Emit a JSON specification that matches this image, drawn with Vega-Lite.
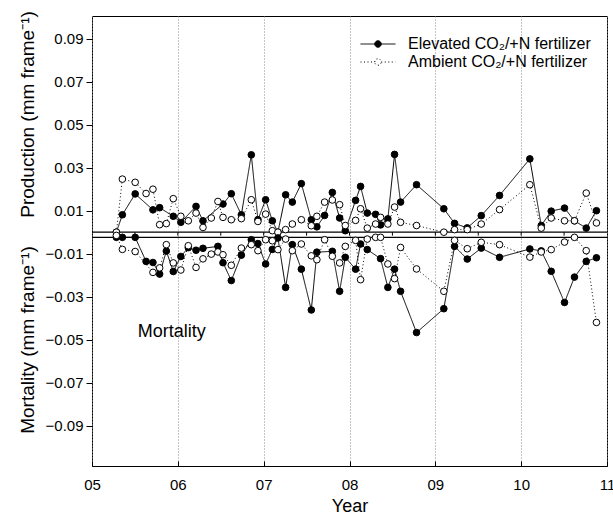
{
"$schema": "https://vega.github.io/schema/vega-lite/v6.json",
"width": 515, "height": 450,
"autosize": {"type": "none"},
"padding": {"left": 92, "top": 16, "right": 6, "bottom": 48},
"background": "white",
"config": {
  "font": "Liberation Sans",
  "view": {"stroke": "black", "strokeWidth": 1},
  "axis": {"labelFont": "Liberation Sans", "titleFont": "Liberation Sans", "labelColor": "black", "titleColor": "black", "titleFontWeight": "normal"},
  "legend": {"labelFont": "Liberation Sans", "labelColor": "black"},
  "text": {"font": "Liberation Sans"}
},
"datasets": {
  "ticks": [{"t":5.5},{"t":6},{"t":6.5},{"t":7},{"t":7.5},{"t":8},{"t":8.5},{"t":9},{"t":9.5},{"t":10},{"t":10.5}],
  "rules": [{"v":0},{"v":-0.0024}],
  "note": [{"t":5.532,"v":-0.0465,"label":"Mortality"}],
  "obs": [
{"t":5.284,"v":0,"s":"E","k":"P"},{"t":5.354,"v":0.0081,"s":"E","k":"P"},{"t":5.503,"v":0.0178,"s":"E","k":"P"},{"t":5.710,"v":0.0104,"s":"E","k":"P"},{"t":5.788,"v":0.0114,"s":"E","k":"P"},{"t":5.947,"v":0.0074,"s":"E","k":"P"},{"t":6.035,"v":0.0046,"s":"E","k":"P"},{"t":6.212,"v":0.012,"s":"E","k":"P"},{"t":6.293,"v":0.0053,"s":"E","k":"P"},{"t":6.526,"v":0.0131,"s":"E","k":"P"},{"t":6.623,"v":0.0179,"s":"E","k":"P"},{"t":6.740,"v":0.0081,"s":"E","k":"P"},{"t":6.856,"v":0.036,"s":"E","k":"P"},{"t":6.933,"v":0.0058,"s":"E","k":"P"},{"t":7.023,"v":0.0151,"s":"E","k":"P"},{"t":7.101,"v":0.0053,"s":"E","k":"P"},{"t":7.166,"v":0.0,"s":"E","k":"P"},{"t":7.256,"v":0.0174,"s":"E","k":"P"},{"t":7.334,"v":0.014,"s":"E","k":"P"},{"t":7.439,"v":0.0226,"s":"E","k":"P"},{"t":7.555,"v":0.0058,"s":"E","k":"P"},{"t":7.620,"v":0.0025,"s":"E","k":"P"},{"t":7.710,"v":0.0078,"s":"E","k":"P"},{"t":7.800,"v":0.0185,"s":"E","k":"P"},{"t":7.885,"v":0.0066,"s":"E","k":"P"},{"t":7.951,"v":0.0007,"s":"E","k":"P"},{"t":8.071,"v":0.0148,"s":"E","k":"P"},{"t":8.129,"v":0.0213,"s":"E","k":"P"},{"t":8.207,"v":0.0089,"s":"E","k":"P"},{"t":8.304,"v":0.0083,"s":"E","k":"P"},{"t":8.362,"v":0.0034,"s":"E","k":"P"},{"t":8.447,"v":0.0062,"s":"E","k":"P"},{"t":8.525,"v":0.0362,"s":"E","k":"P"},{"t":8.595,"v":0.014,"s":"E","k":"P"},{"t":8.781,"v":0.0221,"s":"E","k":"P"},{"t":9.099,"v":0.0109,"s":"E","k":"P"},{"t":9.224,"v":0.0041,"s":"E","k":"P"},{"t":9.372,"v":0.002,"s":"E","k":"P"},{"t":9.535,"v":0.0077,"s":"E","k":"P"},{"t":9.748,"v":0.0171,"s":"E","k":"P"},{"t":10.101,"v":0.0341,"s":"E","k":"P"},{"t":10.234,"v":0.0031,"s":"E","k":"P"},{"t":10.350,"v":0.0098,"s":"E","k":"P"},{"t":10.505,"v":0.0112,"s":"E","k":"P"},{"t":10.621,"v":0.0053,"s":"E","k":"P"},{"t":10.758,"v":0.0019,"s":"E","k":"P"},{"t":10.877,"v":0.01,"s":"E","k":"P"},
{"t":5.284,"v":0,"s":"A","k":"P"},{"t":5.354,"v":0.0247,"s":"A","k":"P"},{"t":5.503,"v":0.0232,"s":"A","k":"P"},{"t":5.630,"v":0.018,"s":"A","k":"P"},{"t":5.710,"v":0.020,"s":"A","k":"P"},{"t":5.788,"v":0.0035,"s":"A","k":"P"},{"t":5.866,"v":0.004,"s":"A","k":"P"},{"t":5.947,"v":0.0156,"s":"A","k":"P"},{"t":6.035,"v":0.0074,"s":"A","k":"P"},{"t":6.122,"v":0.0053,"s":"A","k":"P"},{"t":6.212,"v":0.0089,"s":"A","k":"P"},{"t":6.293,"v":0.0022,"s":"A","k":"P"},{"t":6.390,"v":0.0066,"s":"A","k":"P"},{"t":6.467,"v":0.0143,"s":"A","k":"P"},{"t":6.526,"v":0.0069,"s":"A","k":"P"},{"t":6.623,"v":0.0058,"s":"A","k":"P"},{"t":6.740,"v":0.0063,"s":"A","k":"P"},{"t":6.856,"v":0.0151,"s":"A","k":"P"},{"t":6.933,"v":0.005,"s":"A","k":"P"},{"t":7.023,"v":0.0084,"s":"A","k":"P"},{"t":7.101,"v":0.0007,"s":"A","k":"P"},{"t":7.166,"v":0,"s":"A","k":"P"},{"t":7.256,"v":0.0012,"s":"A","k":"P"},{"t":7.334,"v":0.0038,"s":"A","k":"P"},{"t":7.439,"v":0.0058,"s":"A","k":"P"},{"t":7.555,"v":0.003,"s":"A","k":"P"},{"t":7.620,"v":0.0074,"s":"A","k":"P"},{"t":7.710,"v":0.014,"s":"A","k":"P"},{"t":7.800,"v":0.015,"s":"A","k":"P"},{"t":7.885,"v":0.0128,"s":"A","k":"P"},{"t":7.951,"v":0.0031,"s":"A","k":"P"},{"t":8.071,"v":0.0055,"s":"A","k":"P"},{"t":8.129,"v":0.0109,"s":"A","k":"P"},{"t":8.207,"v":0.0019,"s":"A","k":"P"},{"t":8.304,"v":0.0038,"s":"A","k":"P"},{"t":8.362,"v":0.0069,"s":"A","k":"P"},{"t":8.447,"v":0.0038,"s":"A","k":"P"},{"t":8.525,"v":0.0117,"s":"A","k":"P"},{"t":8.595,"v":0.0046,"s":"A","k":"P"},{"t":8.781,"v":0.0031,"s":"A","k":"P"},{"t":9.099,"v":0,"s":"A","k":"P"},{"t":9.224,"v":0.0012,"s":"A","k":"P"},{"t":9.372,"v":0.0012,"s":"A","k":"P"},{"t":9.535,"v":0.0038,"s":"A","k":"P"},{"t":9.748,"v":0.0105,"s":"A","k":"P"},{"t":10.101,"v":0.0221,"s":"A","k":"P"},{"t":10.234,"v":0.0019,"s":"A","k":"P"},{"t":10.350,"v":0.0066,"s":"A","k":"P"},{"t":10.505,"v":0.0053,"s":"A","k":"P"},{"t":10.621,"v":0.0053,"s":"A","k":"P"},{"t":10.758,"v":0.0182,"s":"A","k":"P"},{"t":10.877,"v":0.0043,"s":"A","k":"P"},
{"t":5.284,"v":-0.0024,"s":"E","k":"M"},{"t":5.354,"v":-0.0024,"s":"E","k":"M"},{"t":5.503,"v":-0.0024,"s":"E","k":"M"},{"t":5.630,"v":-0.0136,"s":"E","k":"M"},{"t":5.710,"v":-0.0141,"s":"E","k":"M"},{"t":5.788,"v":-0.0195,"s":"E","k":"M"},{"t":5.866,"v":-0.0088,"s":"E","k":"M"},{"t":5.947,"v":-0.0183,"s":"E","k":"M"},{"t":6.035,"v":-0.0113,"s":"E","k":"M"},{"t":6.122,"v":-0.0072,"s":"E","k":"M"},{"t":6.212,"v":-0.0084,"s":"E","k":"M"},{"t":6.293,"v":-0.0075,"s":"E","k":"M"},{"t":6.467,"v":-0.0066,"s":"E","k":"M"},{"t":6.526,"v":-0.0142,"s":"E","k":"M"},{"t":6.623,"v":-0.0225,"s":"E","k":"M"},{"t":6.740,"v":-0.0107,"s":"E","k":"M"},{"t":6.856,"v":-0.0035,"s":"E","k":"M"},{"t":6.933,"v":-0.0053,"s":"E","k":"M"},{"t":7.023,"v":-0.0148,"s":"E","k":"M"},{"t":7.101,"v":-0.008,"s":"E","k":"M"},{"t":7.166,"v":-0.0027,"s":"E","k":"M"},{"t":7.256,"v":-0.0257,"s":"E","k":"M"},{"t":7.334,"v":-0.0058,"s":"E","k":"M"},{"t":7.439,"v":-0.0172,"s":"E","k":"M"},{"t":7.555,"v":-0.0362,"s":"E","k":"M"},{"t":7.620,"v":-0.0093,"s":"E","k":"M"},{"t":7.800,"v":-0.0089,"s":"E","k":"M"},{"t":7.885,"v":-0.0275,"s":"E","k":"M"},{"t":7.951,"v":-0.0117,"s":"E","k":"M"},{"t":8.071,"v":-0.0172,"s":"E","k":"M"},{"t":8.129,"v":-0.0055,"s":"E","k":"M"},{"t":8.207,"v":-0.0081,"s":"E","k":"M"},{"t":8.362,"v":-0.0123,"s":"E","k":"M"},{"t":8.447,"v":-0.0257,"s":"E","k":"M"},{"t":8.525,"v":-0.0172,"s":"E","k":"M"},{"t":8.595,"v":-0.0275,"s":"E","k":"M"},{"t":8.781,"v":-0.0467,"s":"E","k":"M"},{"t":9.099,"v":-0.0356,"s":"E","k":"M"},{"t":9.224,"v":-0.0066,"s":"E","k":"M"},{"t":9.372,"v":-0.0125,"s":"E","k":"M"},{"t":9.535,"v":-0.0074,"s":"E","k":"M"},{"t":9.748,"v":-0.0117,"s":"E","k":"M"},{"t":10.101,"v":-0.0078,"s":"E","k":"M"},{"t":10.234,"v":-0.0087,"s":"E","k":"M"},{"t":10.350,"v":-0.0182,"s":"E","k":"M"},{"t":10.505,"v":-0.0327,"s":"E","k":"M"},{"t":10.621,"v":-0.0209,"s":"E","k":"M"},{"t":10.758,"v":-0.0136,"s":"E","k":"M"},{"t":10.877,"v":-0.0119,"s":"E","k":"M"},
{"t":5.284,"v":-0.0015,"s":"A","k":"M"},{"t":5.354,"v":-0.008,"s":"A","k":"M"},{"t":5.503,"v":-0.009,"s":"A","k":"M"},{"t":5.710,"v":-0.0187,"s":"A","k":"M"},{"t":5.788,"v":-0.0166,"s":"A","k":"M"},{"t":5.866,"v":-0.0058,"s":"A","k":"M"},{"t":5.947,"v":-0.0143,"s":"A","k":"M"},{"t":6.035,"v":-0.0176,"s":"A","k":"M"},{"t":6.122,"v":-0.0063,"s":"A","k":"M"},{"t":6.212,"v":-0.0164,"s":"A","k":"M"},{"t":6.293,"v":-0.0124,"s":"A","k":"M"},{"t":6.390,"v":-0.0102,"s":"A","k":"M"},{"t":6.467,"v":-0.0092,"s":"A","k":"M"},{"t":6.526,"v":-0.0105,"s":"A","k":"M"},{"t":6.623,"v":-0.0154,"s":"A","k":"M"},{"t":6.740,"v":-0.0074,"s":"A","k":"M"},{"t":6.856,"v":-0.0058,"s":"A","k":"M"},{"t":6.933,"v":-0.0086,"s":"A","k":"M"},{"t":7.023,"v":-0.0035,"s":"A","k":"M"},{"t":7.101,"v":-0.004,"s":"A","k":"M"},{"t":7.166,"v":-0.0081,"s":"A","k":"M"},{"t":7.256,"v":-0.0032,"s":"A","k":"M"},{"t":7.334,"v":-0.0086,"s":"A","k":"M"},{"t":7.439,"v":-0.0055,"s":"A","k":"M"},{"t":7.555,"v":-0.011,"s":"A","k":"M"},{"t":7.620,"v":-0.0128,"s":"A","k":"M"},{"t":7.710,"v":-0.0035,"s":"A","k":"M"},{"t":7.800,"v":-0.0112,"s":"A","k":"M"},{"t":7.885,"v":-0.0143,"s":"A","k":"M"},{"t":7.951,"v":-0.0066,"s":"A","k":"M"},{"t":8.071,"v":-0.0038,"s":"A","k":"M"},{"t":8.129,"v":-0.0221,"s":"A","k":"M"},{"t":8.207,"v":-0.0032,"s":"A","k":"M"},{"t":8.304,"v":-0.0024,"s":"A","k":"M"},{"t":8.362,"v":-0.0024,"s":"A","k":"M"},{"t":8.447,"v":-0.0148,"s":"A","k":"M"},{"t":8.525,"v":-0.0216,"s":"A","k":"M"},{"t":8.595,"v":-0.0071,"s":"A","k":"M"},{"t":8.781,"v":-0.0171,"s":"A","k":"M"},{"t":9.099,"v":-0.0275,"s":"A","k":"M"},{"t":9.224,"v":-0.0038,"s":"A","k":"M"},{"t":9.372,"v":-0.0077,"s":"A","k":"M"},{"t":9.535,"v":-0.0047,"s":"A","k":"M"},{"t":9.748,"v":-0.0058,"s":"A","k":"M"},{"t":10.101,"v":-0.0116,"s":"A","k":"M"},{"t":10.234,"v":-0.0092,"s":"A","k":"M"},{"t":10.350,"v":-0.0081,"s":"A","k":"M"},{"t":10.505,"v":-0.0046,"s":"A","k":"M"},{"t":10.621,"v":-0.0024,"s":"A","k":"M"},{"t":10.758,"v":-0.0086,"s":"A","k":"M"},{"t":10.877,"v":-0.042,"s":"A","k":"M"}
  ]
},
"layer": [
  {
    "data": {"name": "rules"},
    "mark": {"type": "rule", "color": "black", "strokeWidth": 1.2},
    "encoding": {
      "y": {"field": "v", "type": "quantitative",
        "scale": {"domain": [-0.1088, 0.1006], "nice": false, "zero": false},
        "axis": {"values": [-0.09,-0.07,-0.05,-0.03,-0.01,0.01,0.03,0.05,0.07,0.09], "format": ".2f", "grid": false, "domain": false, "ticks": true, "tickSize": 6, "tickColor": "black", "labelFontSize": 15, "labelPadding": 3,
          "title": "Mortality (mm frame⁻¹)\u2003\u2002Production (mm frame⁻¹)", "titleFontSize": 19, "titleAngle": -90, "titleX": -65, "titleY": 206, "titleAlign": "center", "titleBaseline": "middle", "titleLimit": 600}}
    }
  },
  {
    "data": {"name": "ticks"},
    "mark": {"type": "rule", "color": "black", "strokeWidth": 1},
    "encoding": {
      "x": {"field": "t", "type": "quantitative",
        "scale": {"domain": [5, 11], "nice": false, "zero": false},
        "axis": {"values": [5,6,7,8,9,10,11], "labelExpr": "datum.value < 10 ? '0' + datum.value : '' + datum.value", "labelFlush": false, "labelOverlap": false, "labelBound": false, "grid": true, "gridDash": [1,2], "gridColor": "#8a8a8a", "domain": false, "ticks": true, "tickSize": -5, "tickColor": "black", "labelPadding": 16, "labelFontSize": 15, "title": "Year", "titleFontSize": 18, "titlePadding": 5}},
      "y": {"datum": 0},
      "y2": {"datum": -0.0016}
    }
  },
  {
    "data": {"name": "obs"},
    "mark": {"type": "line", "color": "black", "strokeWidth": 1},
    "encoding": {
      "x": {"field": "t", "type": "quantitative"},
      "y": {"field": "v", "type": "quantitative"},
      "detail": {"field": "k"},
      "strokeDash": {"field": "s", "type": "nominal",
        "scale": {"domain": ["E", "A"], "range": [[1, 0], [1, 2.5]]},
        "legend": {"orient": "none", "legendX": 278, "legendY": 20, "title": null, "padding": 0,
          "symbolType": "M-3.5,0H-0.65M0.65,0H3.5M-0.65,0A0.65,0.65,0,1,1,0.65,0A0.65,0.65,0,1,1,-0.65,0Z",
          "symbolSize": 100, "symbolStrokeColor": "black", "symbolStrokeWidth": 1,
          "labelFontSize": 16, "labelOffset": 22, "labelLimit": 400, "rowPadding": 2,
          "labelExpr": "datum.value == 'E' ? 'Elevated CO₂/+N fertilizer' : 'Ambient CO₂/+N fertilizer'",
          "encode": {"symbols": {"update": {"fill": {"signal": "datum.value == 'E' ? 'black' : 'white'"}, "stroke": {"value": "black"}}}}}
      }
    }
  },
  {
    "data": {"name": "obs"},
    "mark": {"type": "point", "filled": true, "size": 44, "stroke": "black", "strokeWidth": 1, "opacity": 1},
    "encoding": {
      "x": {"field": "t", "type": "quantitative"},
      "y": {"field": "v", "type": "quantitative"},
      "fill": {"field": "s", "type": "nominal", "scale": {"domain": ["E", "A"], "range": ["black", "white"]}, "legend": null}
    }
  },
  {
    "data": {"name": "note"},
    "mark": {"type": "text", "align": "left", "baseline": "middle", "fontSize": 18, "color": "black"},
    "encoding": {
      "x": {"field": "t", "type": "quantitative"},
      "y": {"field": "v", "type": "quantitative"},
      "text": {"field": "label"}
    }
  }
]
}
